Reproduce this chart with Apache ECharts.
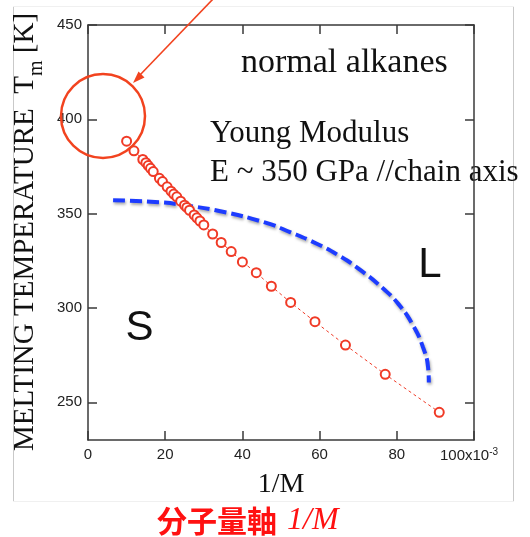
<!DOCTYPE html>
<html>
<head>
<meta charset="utf-8">
<script src="https://cdn.jsdelivr.net/npm/echarts@6/dist/echarts.min.js"></script>
<style>
  html, body { margin: 0; padding: 0; background: #fff; }
  #chart { width: 530px; height: 537px; }
</style>
</head>
<body>
<div id="chart"></div>
<script>
// Melting temperature of n-alkanes against inverse chain length (x in units of 10^-3)
const invM = [10.0, 11.9, 14.2, 15.0, 15.6, 16.2, 16.9, 18.5, 19.3, 20.5, 21.5, 22.2, 23.0, 24.0,
              25.0, 25.6, 26.3, 27.5, 28.2, 29.0, 30.0, 32.3, 34.5, 37.1, 40.0, 43.6, 47.5, 52.5,
              58.8, 66.7, 77.0, 91.0];
const meltT = [388.4, 383.3, 378.7, 377.0, 375.5, 374.0, 372.3, 368.7, 367.0, 364.2, 361.9, 360.4, 358.9, 356.6,
               354.5, 353.3, 351.8, 349.3, 347.8, 346.1, 344.0, 339.2, 334.7, 329.9, 324.4, 318.7, 311.5, 302.9,
               292.7, 280.3, 264.8, 244.7];

// Solid / liquid boundary sketched with the chain-axis modulus
const boundaryX = [6.5, 18.7, 25.2, 34.3, 46.0, 52.5, 59.0, 64.9, 70.7, 76.4, 80.5, 84.2, 86.8, 88.1, 88.3];
const boundaryT = [357.1, 356.0, 354.4, 351.3, 345.2, 340.1, 334.3, 327.9, 319.9, 310.4, 301.9, 290.8, 279.1, 268.5, 260.5];

// Tick positions
const xTicks = [0, 20, 40, 60, 80, 100];
const yTicks = [250, 300, 350, 400, 450];

const serif = 'Liberation Serif';
const sans = 'Liberation Sans';
const axisColor = '#3a3a3a';
const red = '#f03a26';

const chart = echarts.init(document.getElementById('chart'), null, { renderer: 'canvas' });

const pair = (xs, ys) => xs.map((x, i) => [x, ys[i]]);

const lineCfg = { show: true, onZero: false, lineStyle: { color: axisColor, width: 1.5 } };
const tickCfg = ticks => ({ show: true, inside: true, length: 9, customValues: ticks, lineStyle: { color: axisColor, width: 1.5 } });

chart.setOption({
  animation: false,
  backgroundColor: '#ffffff',
  grid: { left: 88, right: 56, top: 25, bottom: 97 },
  xAxis: [
    {
      type: 'value', position: 'bottom', min: 0, max: 100, interval: 20,
      name: '1/M', nameLocation: 'middle', nameGap: 31,
      nameTextStyle: { fontFamily: serif, fontSize: 28, color: '#111' },
      axisLine: lineCfg, axisTick: tickCfg(xTicks), splitLine: { show: false },
      axisLabel: {
        margin: 7, fontFamily: sans, fontSize: 15, color: '#222',
        formatter: v => v === 100 ? '{n|100x10}{sup|-3}' : String(v),
        rich: {
          n: { fontFamily: sans, fontSize: 15, color: '#222', lineHeight: 18 },
          sup: { fontFamily: sans, fontSize: 10, color: '#222', lineHeight: 10, verticalAlign: 'top', padding: [0, 10, 0, 0] }
        }
      }
    },
    {
      type: 'value', position: 'top', min: 0, max: 100, interval: 20,
      axisLine: lineCfg, axisTick: tickCfg(xTicks), splitLine: { show: false },
      axisLabel: { show: false }
    }
  ],
  yAxis: [
    {
      type: 'value', position: 'left', min: 230, max: 450,
      axisLine: lineCfg, axisTick: tickCfg(yTicks), splitLine: { show: false },
      axisLabel: { margin: 6, fontFamily: sans, fontSize: 15, color: '#222', customValues: yTicks }
    },
    {
      type: 'value', position: 'right', min: 230, max: 450,
      axisLine: lineCfg, axisTick: tickCfg(yTicks), splitLine: { show: false },
      axisLabel: { show: false }
    }
  ],
  series: [
    {
      name: 'boundary',
      type: 'line',
      data: pair(boundaryX, boundaryT),
      smooth: 0.5,
      showSymbol: false,
      lineStyle: {
        color: '#1d3cff', width: 4, type: [12, 5],
        shadowColor: 'rgba(0,0,0,0.35)', shadowBlur: 3, shadowOffsetX: 1, shadowOffsetY: 2
      },
      z: 2
    },
    {
      name: 'Tm',
      type: 'line',
      data: pair(invM, meltT),
      symbol: 'emptyCircle',
      symbolSize: 9,
      lineStyle: { color: red, width: 1, type: [3, 3] },
      itemStyle: { color: red, borderColor: red, borderWidth: 1.2 },
      z: 3
    }
  ],
  graphic: [
    // outer figure border
    { type: 'line', shape: { x1: 13.5, y1: 6, x2: 13.5, y2: 501 }, style: { stroke: '#c9c9c9', lineWidth: 1 } },
    { type: 'line', shape: { x1: 513.5, y1: 6, x2: 513.5, y2: 501 }, style: { stroke: '#c9c9c9', lineWidth: 1 } },
    { type: 'line', shape: { x1: 13, y1: 6.5, x2: 514, y2: 6.5 }, style: { stroke: '#f0f0f0', lineWidth: 1 } },
    { type: 'line', shape: { x1: 13, y1: 501.5, x2: 514, y2: 501.5 }, style: { stroke: '#f0f0f0', lineWidth: 1 } },
    // vertical axis title with subscript
    {
      type: 'text', x: 25, y: 232, rotation: Math.PI / 2,
      style: {
        text: '{a|MELTING TEMPERATURE  T}{s|m}{a| [K]}',
        align: 'center', verticalAlign: 'middle',
        rich: {
          a: { fontFamily: serif, fontSize: 29, lineHeight: 44, fill: '#111' },
          s: { fontFamily: serif, fontSize: 20, lineHeight: 20, verticalAlign: 'bottom', fill: '#111' }
        }
      }
    },
    // annotations
    { type: 'text', x: 241, y: 63, style: { text: 'normal alkanes', fontFamily: serif, fontSize: 34, fill: '#111', align: 'left', verticalAlign: 'middle' } },
    { type: 'text', x: 210, y: 134, style: { text: 'Young Modulus', fontFamily: serif, fontSize: 31, fill: '#111', align: 'left', verticalAlign: 'middle' } },
    { type: 'text', x: 210, y: 172.5, style: { text: 'E ~ 350 GPa //chain axis', fontFamily: serif, fontSize: 31, fill: '#111', align: 'left', verticalAlign: 'middle' } },
    { type: 'text', x: 139.5, y: 328, style: { text: 'S', fontFamily: sans, fontSize: 42, fill: '#111', align: 'center', verticalAlign: 'middle' } },
    { type: 'text', x: 430, y: 265, style: { text: 'L', fontFamily: sans, fontSize: 42, fill: '#111', align: 'center', verticalAlign: 'middle' } },
    // highlight circle and pointer
    { type: 'circle', shape: { cx: 103, cy: 116, r: 42 }, style: { fill: 'none', stroke: '#f2431f', lineWidth: 2.5 }, z: 10 },
    { type: 'line', shape: { x1: 214, y1: -2, x2: 139, y2: 76 }, style: { stroke: '#f2431f', lineWidth: 1.6 }, z: 10 },
    { type: 'polygon', shape: { points: [[133, 83], [144.5, 77.5], [138.5, 71.5]] }, style: { fill: '#f2431f' }, z: 10 },
    // red caption under the axis
    {
      type: 'text', x: 157, y: 521,
      style: {
        text: '{c|分子量軸}{i|1/M}',
        align: 'left', verticalAlign: 'middle',
        rich: {
          c: { fontFamily: 'Noto Sans CJK JP', fontWeight: 'bold', fontSize: 30, fill: '#ff1111' },
          i: { fontFamily: serif, fontStyle: 'italic', fontSize: 32, fill: '#ff1111', padding: [0, 0, 0, 10] }
        }
      }
    }
  ]
});
</script>
</body>
</html>
